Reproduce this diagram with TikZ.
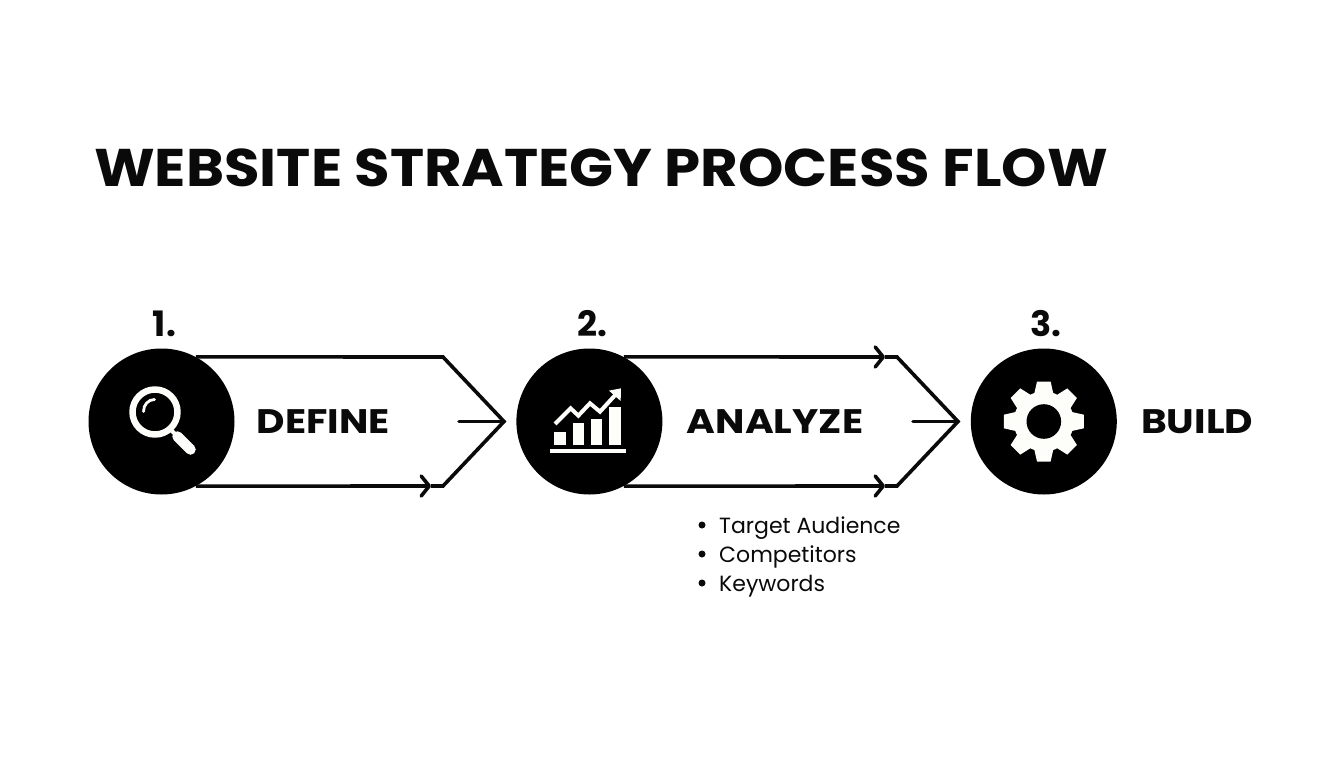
\documentclass[tikz,border=0pt]{standalone}
\usepackage{fontspec}
\setmainfont{Poppins}
\newfontfamily\titlefont[FakeStretch=1.09]{Poppins}
\newfontfamily\stepfont[FakeStretch=1.15]{Poppins}
\usetikzlibrary{positioning,arrows.meta}
\definecolor{inkblack}{HTML}{0A0A0A}
\definecolor{iconwhite}{HTML}{FDFDF9}

\begin{document}
\begin{tikzpicture}[
x=1pt, y=-1pt,
roundnode/.style={circle, fill=black, inner sep=0pt, minimum size=146pt},
titlenode/.style={inner sep=0pt, text=inkblack, font=\fontsize{53}{53}\titlefont\bfseries},
stepnum/.style={inner sep=0pt, text=inkblack, font=\fontsize{35}{35}\selectfont\bfseries},
steplabel/.style={inner sep=0pt, text=inkblack, font=\fontsize{34}{34}\stepfont\bfseries},
itemtext/.style={inner sep=0pt, anchor=base west, text=inkblack, font=\fontsize{22}{29}\selectfont},
itemdot/.style={circle, fill=inkblack, inner sep=0pt, minimum size=7pt},
flowline/.style={draw=inkblack, line width=3.6pt, line join=miter},
flowtip/.style={-{Straight Barb[length=8pt, width=20pt, line width=3.6pt, round]}},
iconline/.style={draw=iconwhite, line cap=round, line join=round}
]
    \useasboundingbox (0,0) rectangle (1344,768);
    \fill[white] (0,0) rectangle (1344,768);

    %Nodes
    \node[titlenode, anchor=west]
        (title) at (94,168)     {WEBSITE STRATEGY PROCESS FLOW};
    \node[roundnode]
        (m0) at (161.5,421.5)   {};
    \node[roundnode]
        (m1)    [right=281.5pt of m0]   {};
    \node[roundnode]
        (m2)    [right=308pt of m1]     {};

    \node[stepnum]
        (n0)    [above=11pt of m0, xshift=3pt]  {1.};
    \node[stepnum]
        (n1)    [above=11pt of m1, xshift=3pt]  {2.};
    \node[stepnum]
        (n2)    [above=11pt of m2, xshift=2pt]  {3.};

    \node[steplabel]
        (l0)    [right=22pt of m0]      {DEFINE};
    \node[steplabel]
        (l1)    [right=24pt of m1]      {ANALYZE};
    \node[steplabel]
        (l2)    [right=24pt of m2]      {BUILD};

    \node[itemtext]
        (i0) at (719,533)       {Target Audience};
    \node[itemtext]
        (i1) at (719,562)       {Competitors};
    \node[itemtext]
        (i2) at (719,591)       {Keywords};
    \foreach \n/\y in {d0/525, d1/554, d2/583}
        \node[itemdot] (\n) at (702,\y) {};

    %Chevron corners
    \coordinate (top0) at (443,357);
    \coordinate (bot0) at (443,486);
    \coordinate (tip0) at (504,421.5);
    \coordinate (tick0) at (459,421.5);
    \coordinate (head0) at (431,486);
    \coordinate (top1) at (897,357);
    \coordinate (bot1) at (897,486);
    \coordinate (tip1) at (958,421.5);
    \coordinate (tick1) at (913,421.5);
    \coordinate (headt1) at (885,357);
    \coordinate (headb1) at (885,486);

    %Lines
    \draw[flowline]
        (m0.62) -- (top0) -- (tip0) -- (bot0) -- (head0);
    \draw[flowline, flowtip]
        (m0.-62) -- (head0);
    \draw[flowline, line cap=round]
        (tick0) -- (tip0);

    \draw[flowline, flowtip]
        (m1.62) -- (headt1);
    \draw[flowline, flowtip]
        (m1.-62) -- (headb1);
    \draw[flowline]
        (headt1) -- (top1) -- (tip1) -- (bot1) -- (headb1);
    \draw[flowline, line cap=round]
        (tick1) -- (tip1);

    %Magnifier
    \begin{scope}[shift={(m0.center)}]
        \draw[iconline, line width=6.5pt] (-6.5,-9.5) circle (22.5);
        \draw[iconline, line width=4pt] (9,8) -- (16,15);
        \draw[iconline, line width=10.5pt] (16,15) -- (29,28);
        \draw[iconline, line width=2.8pt] (-18,-10) .. controls (-18,-17) and (-13,-22) .. (-7,-22);
    \end{scope}

    %Chart
    \begin{scope}[shift={(500,300)}, x=0.3333pt, y=-0.3333pt]
        \fill[iconwhite] (163,395) rectangle (197,435);
        \fill[iconwhite] (218,368) rectangle (252,435);
        \fill[iconwhite] (273,358) rectangle (307,435);
        \fill[iconwhite] (328,322) rectangle (362,435);
        \fill[iconwhite] (150,447) rectangle (377,460);
        \draw[iconline, line cap=butt, line join=miter, line width=4pt]
            (165,372) -- (212,325) -- (235,347) -- (270,310) -- (300,335) -- (355,275);
        \fill[iconwhite] (363,265) -- (327,272) -- (362,303) -- cycle;
    \end{scope}

    %Gear
    \begin{scope}[shift={(m2.center)}]
        \fill[iconwhite] (0,0) circle (30);
        \foreach \ang in {0,45,...,315}
            \fill[iconwhite, rotate=\ang] (-9.5,-28) -- (-6.8,-40) -- (6.8,-40) -- (9.5,-28) -- cycle;
        \fill[black] (0,0) circle (17.3);
    \end{scope}
\end{tikzpicture}
\end{document}
